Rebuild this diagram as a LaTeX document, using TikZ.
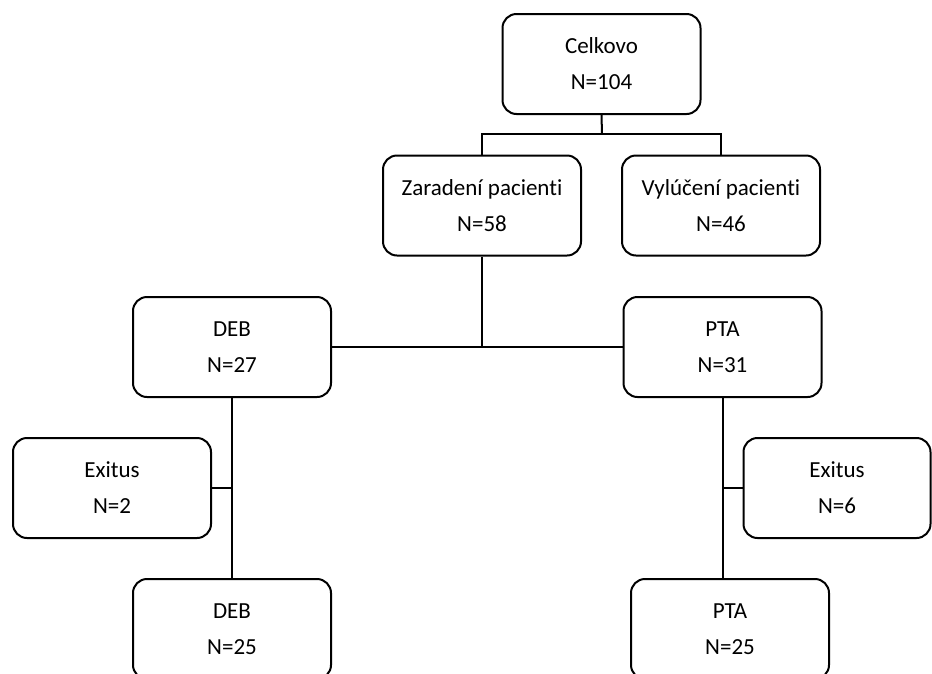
\documentclass[tikz,border=0pt]{standalone}
\usepackage{fontspec}
\setmainfont{Carlito}[Ligatures=NoCommon]
\usepackage{tikz}

\begin{document}
\begin{tikzpicture}[x=1pt,y=-1pt,
    box/.style={draw,line width=2pt,rounded corners=14pt,minimum width=198pt,
      minimum height=100pt,align=center,inner sep=0pt,
      font=\fontsize{23}{36}\selectfont},
    link/.style={line width=2pt}]
  \useasboundingbox (0,0) rectangle (932,673);
  % nodes
  \node[box] (celk) at (601.5,64) {Celkovo\\N=104};
  \node[box] (zar) at (482,205.5) {Zaradení pacienti\\N=58};
  \node[box] (vyl) at (721,205.5) {Vylúčení pacienti\\N=46};
  \node[box] (deb) at (232,347) {DEB\\N=27};
  \node[box] (pta) at (722.5,347) {PTA\\N=31};
  \node[box] (exl) at (112,488) {Exitus\\N=2};
  \node[box,minimum width=187pt] (exr) at (837,488) {Exitus\\N=6};
  \node[box] (debb) at (232,629) {DEB\\N=25};
  \node[box] (ptab) at (730,629) {PTA\\N=25};
  \coordinate (split) at (602,134);
  % connectors
  \draw[link] (celk.south) -- (split);
  \draw[link] (zar.north) |- (split) -| (vyl.north);
  \draw[link] (zar.south) -- (zar.south |- deb.east);
  \draw[link] (deb.east) -- (pta.west);
  \draw[link] (deb.south) -- (debb.north);
  \draw[link] (exl.east) -- (exl.east -| deb.south);
  \draw[link] (pta.south) -- (pta.south |- ptab.north);
  \draw[link] (exr.west) -- (exr.west -| pta.south);
\end{tikzpicture}
\end{document}
